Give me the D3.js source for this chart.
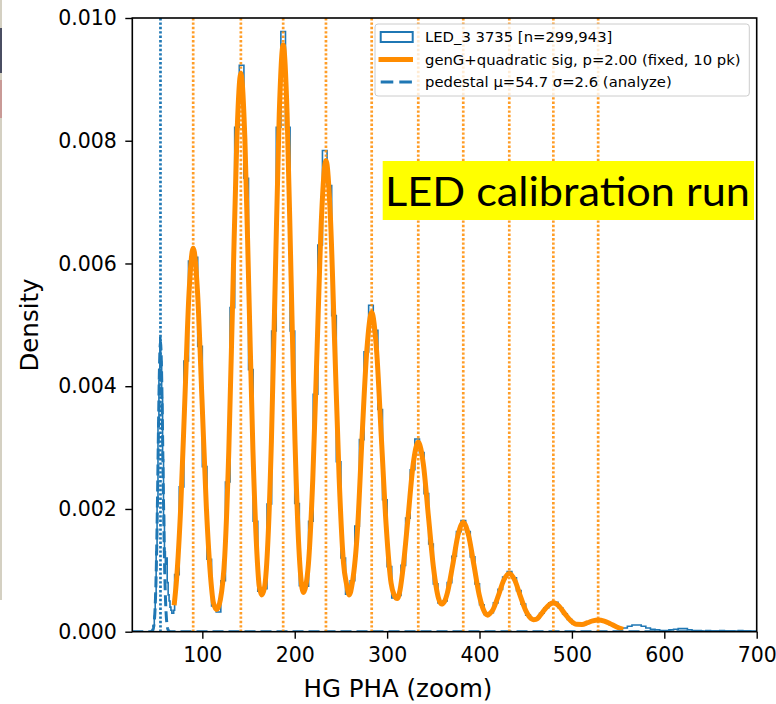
<!DOCTYPE html>
<html>
<head>
<meta charset="utf-8">
<script src="https://cdn.jsdelivr.net/npm/d3@7"></script>
<style>
body { margin: 0; background: #fff; }
text { font-family: "DejaVu Sans", sans-serif; }
</style>
</head>
<body>
<script>
// --- values

var xTicks = [100, 200, 300, 400, 500, 600, 700];
var yTicks = [0, 0.002, 0.004, 0.006, 0.008, 0.010];

// pedestal part of the histogram: 1-wide bins starting at 44
var pedBinStart = 44, pedBinWidth = 1;
var pedHist = [0, 0.00001, 0.00003, 0.00009, 0.00025, 0.0006, 0.0013, 0.0021, 0.0034, 0.0041,
  0.00479, 0.0044, 0.0038, 0.0028, 0.0019, 0.0013, 0.0011, 0.0012, 0.0008, 0.0006,
  0.0005, 0.0004, 0.00035, 0.0003, 0.0003, 0.00035];

// rest of the histogram: 5-wide bins starting at 70
var mainBinStart = 70, mainBinWidth = 5;
var mainHist = [
  0.00093, 0.00236, 0.00441, 0.00604, 0.0061, 0.00465, 0.00269, 0.00118, 0.00042, 0.00032,   // 70-115
  0.00083, 0.00244, 0.00528, 0.00822, 0.00923, 0.00739, 0.00427, 0.0018, 0.00066, 0.0007,    // 120-165
  0.00208, 0.0049, 0.00822, 0.00978, 0.00822, 0.0049, 0.00209, 0.00075, 0.00074, 0.0018,     // 170-215
  0.00387, 0.0063, 0.00784, 0.00727, 0.00515, 0.00277, 0.0012, 0.00061, 0.00083, 0.00172,    // 220-265
  0.00313, 0.00456, 0.00532, 0.00491, 0.00362, 0.00215, 0.00106, 0.00055, 0.00059, 0.00108,  // 270-315
  0.00185, 0.00264, 0.00314, 0.00292, 0.00225, 0.00143, 0.00078, 0.00047, 0.0005, 0.0008,    // 320-365
  0.00123, 0.00163, 0.00181, 0.00163, 0.00122, 0.00078, 0.00044, 0.00028, 0.00031, 0.00047,  // 370-415
  0.00069, 0.00089, 0.00098, 0.00088, 0.00067, 0.00045, 0.00027, 0.0002, 0.00022, 0.0003,    // 420-465
  0.00039, 0.00047, 0.00048, 0.00039, 0.00029, 0.0002, 0.00013, 0.00011, 0.00012, 0.00015,   // 470-515
  0.00018, 0.00021, 0.00019, 0.00016, 0.00012, 0.000085, 0.000055, 0.00006, 0.00009, 0.00011, // 520-565
  0.00011, 0.00009, 0.00006, 0.00004, 0.00003, 0.00002, 0.00002, 0.00003, 0.00004, 0.00005,  // 570-615
  0.00005, 0.00003, 0.00002, 0.00002, 0.00001, 0.00002, 0.00001, 0.00001, 0.00002, 0.00001,  // 620-665
  0.00001, 0.00001, 0.00002, 0.00001, 0.00001, 0.00001                                       // 670-695
];

// fitted curve (genG + quadratic sigma), points along the orange line
var fitPHA = [69.5, 72.1, 76.6, 81.1, 85.6, 90.1, 94.85, 99.6, 104.35, 109.1, 112, 115.6, 119.5,
  124.3, 128.65, 133, 137.35, 141.7, 146.05, 150.4, 154.75, 159.1, 161.5, 164.3, 167.3,
  170.5, 174.75, 179, 183.25, 187.5, 191.75, 196, 200.25, 204.5, 206.5, 209.3, 212,
  214.8, 219.55, 224.3, 229.05, 233.8, 238.55, 243.3, 248.05, 252.8, 256, 259,
  262.3, 268.05, 272.8, 278.05, 283.3, 288.55, 293.8, 299.05, 304.3, 307.5, 311, 314,
  317.2, 322.7, 328.2, 333.7, 339.2, 344.7, 350.2, 355.7, 358.8, 362,
  365.15, 370.9, 376.65, 382.4, 388.15, 393.9, 399.65, 405.4, 409, 411.5,
  414.2, 420.2, 426.2, 432.2, 438.2, 444.2, 450.2, 456.2, 458.5,
  461.15, 467.4, 473.65, 479.9, 486.15, 492.4, 498.65, 505,
  511, 517, 522.5, 528.4, 535, 541, 548, 555.5];
var fitDensity = [0.00043, 0.00085, 0.00203, 0.00379, 0.00552, 0.00625, 0.00552, 0.00379, 0.00203, 0.00086, 0.00047, 0.00036, 0.00052,
  0.00124, 0.00295, 0.00552, 0.00803, 0.0091, 0.00803, 0.00552, 0.00296, 0.00127, 0.00075, 0.0006, 0.00072,
  0.00133, 0.0031, 0.0058, 0.00844, 0.00956, 0.00844, 0.0058, 0.00312, 0.00136, 0.0009, 0.00064, 0.00075,
  0.0011, 0.00249, 0.00466, 0.00678, 0.00768, 0.00678, 0.00466, 0.00251, 0.00112, 0.00078, 0.0006,
  0.00079, 0.00169, 0.00315, 0.00459, 0.0052, 0.00459, 0.00315, 0.00171, 0.00079, 0.0006, 0.00054, 0.00068,
  0.00103, 0.00187, 0.00273, 0.00309, 0.00273, 0.00188, 0.00104, 0.00054, 0.00045, 0.00049,
  0.00063, 0.00108, 0.00157, 0.00178, 0.00157, 0.00109, 0.0006, 0.00032, 0.00027, 0.0003,
  0.00035, 0.00058, 0.000838, 0.00095, 0.000838, 0.00058, 0.00034, 0.00021, 0.000195,
  0.0002, 0.0003, 0.000415, 0.00047, 0.000415, 0.00029, 0.00018, 0.00012,
  0.000118, 0.000147, 0.000176, 0.00019, 0.000172, 0.000134, 0.000081, 0.000037];

// peak positions of the fit (orange dotted lines)
var peakCenters = [90.1, 141.7, 187.5, 233.8, 283.3, 333.7, 382.4, 432.2, 479.9, 528.4];

// pedestal gaussian
var pedMu = 54.7, pedSigma = 2.6, pedPeak = 0.0047;

var legendLabels = ["LED_3 3735 [n=299,943]",
                    "genG+quadratic sig, p=2.00 (fixed, 10 pk)",
                    "pedestal \u03bc=54.7 \u03c3=2.6 (analyze)"];

var blue = "#1f77b4";
var orange = "#ff8c00";

// --- drawing area
var margin = { top: 18, left: 132.3 };
var width = 624.4, height = 613.7;

var svg = d3.select("body").append("svg")
    .attr("width", 776)
    .attr("height", 704);

svg.append("rect").attr("width", 776).attr("height", 704).attr("fill", "#fff");

// thin strip of the neighbouring slide at the left edge
svg.append("rect").attr("x", 0).attr("y", 0).attr("width", 2).attr("height", 600).attr("fill", "#d4d0c2");
svg.append("rect").attr("x", 0).attr("y", 28).attr("width", 2).attr("height", 45).attr("fill", "#4a4e62");
svg.append("rect").attr("x", 0).attr("y", 80).attr("width", 2).attr("height", 38).attr("fill", "#c99a96");

var g = svg.append("g")
    .attr("transform", "translate(" + margin.left + "," + margin.top + ")");

var x = d3.scaleLinear().domain([24.2, 700]).range([0, width]);
var y = d3.scaleLinear().domain([0, 0.010]).range([height, 0]);

g.append("clipPath").attr("id", "plotclip")
  .append("rect").attr("width", width).attr("height", height);

var plot = g.append("g").attr("clip-path", "url(#plotclip)");

// histogram as a step line
var histPts = [[24.2, 0]];
pedHist.forEach(function(v, i) {
    var x0 = pedBinStart + i * pedBinWidth;
    histPts.push([x0, v], [x0 + pedBinWidth, v]);
});
mainHist.forEach(function(v, i) {
    var x0 = mainBinStart + i * mainBinWidth;
    histPts.push([x0, v], [x0 + mainBinWidth, v]);
});
histPts.push([700, 0]);

var line = d3.line().x(d => x(d[0])).y(d => y(d[1]));

plot.append("path")
    .attr("d", line(histPts))
    .attr("fill", "none")
    .attr("stroke", blue)
    .attr("stroke-width", 1.6);

// fit
var fitPts = fitPHA.map((p, i) => [p, fitDensity[i]]);
plot.append("path")
    .attr("d", line.curve(d3.curveMonotoneX)(fitPts))
    .attr("fill", "none")
    .attr("stroke", orange)
    .attr("stroke-width", 5)
    .attr("stroke-linejoin", "round");
line.curve(d3.curveLinear);

// pedestal gaussian, dashed, drawn over the whole range
var pedPts = d3.range(24.2, 700.01, 0.2).map(function(p) {
    var z = (p - pedMu) / pedSigma;
    return [p, pedPeak * Math.exp(-0.5 * z * z)];
});
plot.append("path")
    .attr("d", line(pedPts))
    .attr("fill", "none")
    .attr("stroke", blue)
    .attr("stroke-width", 3)
    .attr("stroke-dasharray", "11,5");

// legend
var lg = svg.append("g");
lg.append("rect")
    .attr("x", 375).attr("y", 24).attr("width", 374.3).attr("height", 72)
    .attr("rx", 3)
    .attr("fill", "#fff").attr("fill-opacity", 0.8)
    .attr("stroke", "#cccccc").attr("stroke-width", 1);

var rowY = [37, 59.5, 82];
lg.append("rect")
    .attr("x", 380.7).attr("y", rowY[0] - 5).attr("width", 32).attr("height", 10)
    .attr("fill", "none").attr("stroke", blue).attr("stroke-width", 2);
lg.append("line")
    .attr("x1", 378.5).attr("x2", 413).attr("y1", rowY[1]).attr("y2", rowY[1])
    .attr("stroke", orange).attr("stroke-width", 5);
lg.append("line")
    .attr("x1", 380.7).attr("x2", 413).attr("y1", rowY[2]).attr("y2", rowY[2])
    .attr("stroke", blue).attr("stroke-width", 3).attr("stroke-dasharray", "12.6,6");

lg.selectAll("text.leg")
    .data(legendLabels)
  .enter().append("text")
    .attr("class", "leg")
    .attr("x", 425)
    .attr("y", (d, i) => rowY[i] + 5.3)
    .attr("font-size", "14.8px")
    .text(d => d);

// vertical dotted lines (peaks + pedestal)
var vl = g.append("g");
vl.append("line")
    .attr("x1", x(pedMu)).attr("x2", x(pedMu))
    .attr("y1", 0).attr("y2", height)
    .attr("stroke", blue).attr("stroke-width", 2.7)
    .attr("stroke-dasharray", "2.4,2.0");
vl.selectAll("line.pk")
    .data(peakCenters)
  .enter().append("line")
    .attr("class", "pk")
    .attr("x1", d => x(d)).attr("x2", d => x(d))
    .attr("y1", 0).attr("y2", height)
    .attr("stroke", orange).attr("stroke-opacity", 0.85).attr("stroke-width", 2.7)
    .attr("stroke-dasharray", "2.4,2.0");

// axes
var xAxis = g.append("g")
    .attr("transform", "translate(0," + height + ")")
    .call(d3.axisBottom(x).tickValues(xTicks).tickSize(7).tickSizeOuter(0).tickPadding(8.7));
var yAxis = g.append("g")
    .call(d3.axisLeft(y).tickValues(yTicks).tickFormat(d3.format(".3f")).tickSize(7).tickSizeOuter(0).tickPadding(8.4));

[xAxis, yAxis].forEach(function(a) {
    a.select(".domain").remove();
    a.selectAll(".tick line").attr("stroke", "#000").attr("stroke-width", 1.4);
    a.selectAll(".tick text")
        .attr("fill", "#000")
        .style("font-family", "'DejaVu Sans', sans-serif")
        .style("font-size", "20.5px");
});

// frame
g.append("rect")
    .attr("width", width).attr("height", height)
    .attr("fill", "none").attr("stroke", "#000").attr("stroke-width", 1.6);

// axis labels
svg.append("text")
    .attr("x", 398).attr("y", 697)
    .attr("text-anchor", "middle")
    .attr("font-size", "24.5px")
    .text("HG PHA (zoom)");

svg.append("text")
    .attr("transform", "translate(38,325) rotate(-90)")
    .attr("text-anchor", "middle")
    .attr("font-size", "24.5px")
    .text("Density");

// yellow annotation pasted on top
svg.append("rect")
    .attr("x", 382.7).attr("y", 161).attr("width", 371.3).attr("height", 59)
    .attr("fill", "#ffff00");
svg.append("text")
    .attr("x", 385).attr("y", 206)
    .attr("font-size", "41px")
    .style("font-family", "Lato, 'Open Sans', sans-serif")
    .attr("textLength", 365)
    .attr("lengthAdjust", "spacingAndGlyphs")
    .text("LED calibration run");
</script>
</body>
</html>
